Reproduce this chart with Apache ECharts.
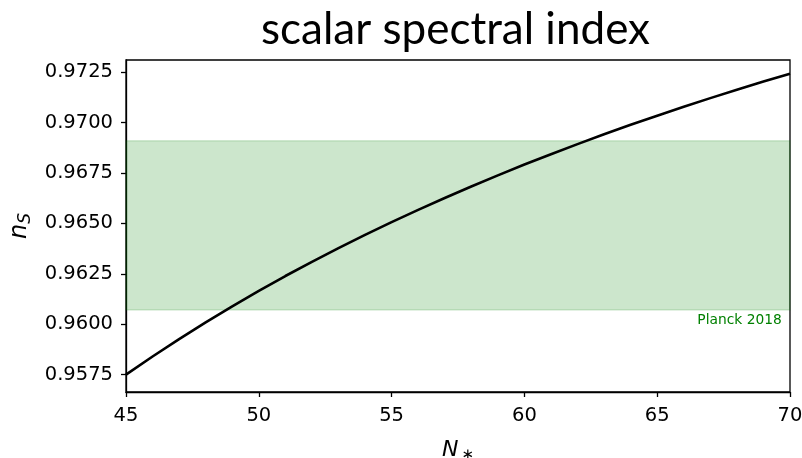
<!DOCTYPE html>
<html>
<head>
<meta charset="utf-8">
<script src="https://cdn.jsdelivr.net/npm/echarts@6/dist/echarts.min.js"></script>
<style>
  html, body { margin: 0; padding: 0; background: #fff; }
  #chart { width: 802px; height: 458px; }
</style>
</head>
<body>
<div id="chart"></div>
<script>
// e-folds before the end of inflation
const nValues = [45, 46, 47, 48, 49, 50, 51, 52, 53, 54, 55, 56, 57, 58, 59, 60,
                 61, 62, 63, 64, 65, 66, 67, 68, 69, 70];
// scalar spectral index n_S at each N
const nsValues = [0.95750, 0.95840, 0.95926, 0.96009, 0.96089, 0.96165, 0.96239, 0.96309,
                  0.96377, 0.96443, 0.96506, 0.96567, 0.96626, 0.96683, 0.96738, 0.96792,
                  0.96843, 0.96893, 0.96942, 0.96989, 0.97034, 0.97078, 0.97121, 0.97163,
                  0.97203, 0.97242];
// Planck 2018 band
const planckLow = 0.9607;
const planckHigh = 0.9691;
const planckLabel = 'Planck 2018';
// axis ticks
const xTicks = [45, 50, 55, 60, 65, 70];
const yTicks = [0.9575, 0.9600, 0.9625, 0.9650, 0.9675, 0.9700, 0.9725];

const chart = echarts.init(document.getElementById('chart'));
const tickFont = { fontFamily: 'DejaVu Sans', fontSize: 19.5, color: '#000' };

chart.setOption({
  animation: false,
  backgroundColor: '#fff',
  title: {
    text: 'scalar spectral index',
    left: 256,
    top: 3,
    textStyle: { fontFamily: 'Lato', fontWeight: 'normal', fontSize: 44, color: '#000' }
  },
  grid: {
    left: 126, right: 12, top: 60, bottom: 66,
    outerBoundsMode: 'none',
    containLabel: false,
    show: true, borderColor: '#000', borderWidth: 1.3, backgroundColor: 'transparent'
  },
  xAxis: {
    type: 'value',
    min: 45, max: 70, interval: 5,
    axisLine: { lineStyle: { color: '#000', width: 1.3 } },
    axisTick: { length: 5, lineStyle: { color: '#000', width: 1.3 } },
    axisLabel: Object.assign({ margin: 14, customValues: xTicks }, tickFont),
    splitLine: { show: false },
    name: '{i|N}{s|∗}',
    nameLocation: 'middle',
    nameGap: 46,
    nameTextStyle: {
      rich: {
        i: { fontFamily: 'DejaVu Sans', fontStyle: 'italic', fontSize: 22, color: '#000' },
        s: { fontFamily: 'DejaVu Sans', fontSize: 15, color: '#000', padding: [10, 0, 0, 3] }
      }
    }
  },
  yAxis: {
    type: 'value',
    min: 0.95664, max: 0.9731,
    axisLine: { show: true, lineStyle: { color: '#000', width: 1.3 } },
    axisTick: { show: true, length: 5, customValues: yTicks, lineStyle: { color: '#000', width: 1.3 } },
    axisLabel: Object.assign({
      margin: 13,
      customValues: yTicks,
      formatter: v => v.toFixed(4)
    }, tickFont),
    splitLine: { show: false },
    name: '{i|n}{s|S}',
    nameLocation: 'middle',
    nameRotate: 90,
    nameGap: 88,
    nameTextStyle: {
      rich: {
        i: { fontFamily: 'DejaVu Sans', fontStyle: 'italic', fontSize: 24, color: '#000' },
        s: { fontFamily: 'DejaVu Sans', fontStyle: 'italic', fontSize: 17, color: '#000', padding: [12, 0, 0, 0] }
      }
    }
  },
  series: [{
    type: 'line',
    data: nValues.map((n, i) => [n, nsValues[i]]),
    showSymbol: false,
    lineStyle: { color: '#000', width: 2.6 },
    z: 3,
    markArea: {
      silent: true,
      itemStyle: { color: 'rgba(0,128,0,0.2)', borderColor: 'rgba(0,128,0,0.15)', borderWidth: 1.5 },
      label: {
        show: true,
        position: 'insideBottomRight',
        offset: [-4, 22],
        fontFamily: 'DejaVu Sans',
        fontSize: 13.8,
        color: '#008000'
      },
      data: [[
        { name: planckLabel, coord: [45, planckLow] },
        { coord: [70, planckHigh] }
      ]]
    }
  }]
});
</script>
</body>
</html>
